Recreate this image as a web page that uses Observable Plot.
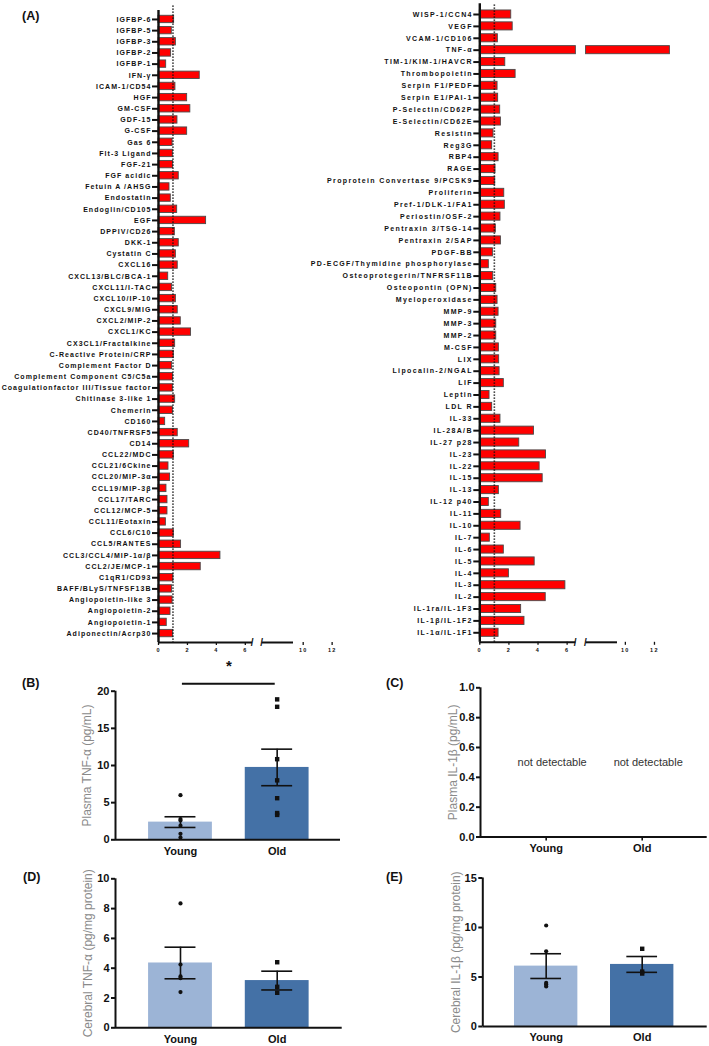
<!DOCTYPE html>
<html><head><meta charset="utf-8">
<script src="https://cdn.jsdelivr.net/npm/d3@7"></script>
<script src="https://cdn.jsdelivr.net/npm/@observablehq/plot@0.6"></script>
<style>
body{margin:0;background:#fff;}
#fig{position:relative;width:709px;height:1046px;font-family:"Liberation Sans",Arial,sans-serif;overflow:hidden;background:#fff}
.panel{position:absolute}
.letter{position:absolute;font-weight:bold;font-size:12.5px;line-height:12px;color:#111}
</style></head><body><div id="fig"></div>
<script>
// ---------- DATA ----------
const leftCats = ["IGFBP-6","IGFBP-5","IGFBP-3","IGFBP-2","IGFBP-1","IFN-γ","ICAM-1/CD54","HGF","GM-CSF","GDF-15","G-CSF","Gas 6","Flt-3 Ligand","FGF-21","FGF acidic","Fetuin A /AHSG","Endostatin","Endoglin/CD105","EGF","DPPIV/CD26","DKK-1","Cystatin C","CXCL16","CXCL13/BLC/BCA-1","CXCL11/I-TAC","CXCL10/IP-10","CXCL9/MIG","CXCL2/MIP-2","CXCL1/KC","CX3CL1/Fractalkine","C-Reactive Protein/CRP","Complement Factor D","Complement Component C5/C5a","Coagulationfactor III/Tissue factor","Chitinase 3-like 1","Chemerin","CD160","CD40/TNFRSF5","CD14","CCL22/MDC","CCL21/6Ckine","CCL20/MIP-3α","CCL19/MIP-3β","CCL17/TARC","CCL12/MCP-5","CCL11/Eotaxin","CCL6/C10","CCL5/RANTES","CCL3/CCL4/MIP-1α/β","CCL2/JE/MCP-1","C1qR1/CD93","BAFF/BLyS/TNFSF13B","Angiopoietin-like 3","Angiopoietin-2","Angiopoietin-1","Adiponectin/Acrp30"];
const leftFold = [1.08,0.92,1.2,0.87,0.53,2.85,1.17,1.98,2.2,1.31,1.98,0.97,0.99,1.01,1.4,0.76,0.85,1.29,3.29,1.13,1.4,1.2,1.33,0.67,0.94,1.2,1.33,1.54,2.25,1.15,1.06,0.94,1.01,0.99,1.15,0.99,0.46,1.33,2.12,1.06,0.69,0.8,0.55,0.62,0.62,0.51,1.06,1.56,4.28,2.92,1.03,0.94,0.97,0.83,0.57,1.01];
const rightCats = ["WISP-1/CCN4","VEGF","VCAM-1/CD106","TNF-α","TIM-1/KIM-1/HAVCR","Thrombopoietin","Serpin F1/PEDF","Serpin E1/PAI-1","P-Selectin/CD62P","E-Selectin/CD62E","Resistin","Reg3G","RBP4","RAGE","Proprotein Convertase 9/PCSK9","Proliferin","Pref-1/DLK-1/FA1","Periostin/OSF-2","Pentraxin 3/TSG-14","Pentraxin 2/SAP","PDGF-BB","PD-ECGF/Thymidine phosphorylase","Osteoprotegerin/TNFRSF11B","Osteopontin (OPN)","Myeloperoxidase","MMP-9","MMP-3","MMP-2","M-CSF","LIX","Lipocalin-2/NGAL","LIF","Leptin","LDL R","IL-33","IL-28A/B","IL-27 p28","IL-23","IL-22","IL-15","IL-13","IL-12 p40","IL-11","IL-10","IL-7","IL-6","IL-5","IL-4","IL-3","IL-2","IL-1ra/IL-1F3","IL-1β/IL-1F2","IL-1α/IL-1F1"];
const rightFold = [2.16,2.26,1.24,16,1.75,2.46,1.22,1.26,1.4,1.45,0.94,0.85,1.29,1.08,1.06,1.68,1.72,1.42,1.1,1.45,0.9,0.62,0.92,1.13,1.22,1.29,1.13,1.13,1.31,1.33,1.36,1.65,0.67,0.85,1.42,3.72,2.71,4.55,4.11,4.32,1.31,0.62,1.47,2.8,0.69,1.65,3.77,2.0,5.88,4.53,2.84,3.07,1.29];
const foldTicks = [0,2,4,6,10,12];
const foldReference = 1;
const foldMax = 12;

const groups = ["Young","Old"];
const plasmaTnfMean = [2.38, 9.74];
const plasmaTnfSem = [0.72, 2.46];
const plasmaTnfYoung = [6.0, 2.8, 2.6, 1.9, 0.8, 0.3];
const plasmaTnfOld = [18.9, 17.9, 10.85, 8.0, 5.6, 3.6, 3.35];
const plasmaTnfTicks = [0,5,10,15,20];
const plasmaTnfSigLevel = 21;
const plasmaTnfStarLevel = 23.9;

const plasmaIl1bTicks = [0,0.2,0.4,0.6,0.8,1.0];
const plasmaIl1bNote = ["not detectable","not detectable"];

const cerebralTnfMean = [4.35, 3.17];
const cerebralTnfSem = [1.06, 0.63];
const cerebralTnfYoung = [8.35, 4.25, 3.45, 3.33, 2.4];
const cerebralTnfOld = [4.4, 2.75, 2.35];
const cerebralTnfTicks = [0,2,4,6,8,10];

const cerebralIl1bMean = [6.1, 6.27];
const cerebralIl1bSem = [1.25, 0.8];
const cerebralIl1bYoung = [10.2, 7.6, 4.4, 4.25, 4.05];
const cerebralIl1bOld = [7.85, 5.55, 5.35];
const cerebralIl1bTicks = [0,5,10,15];

// ---------- STYLE ----------
const FONT = "'Liberation Sans', Arial, sans-serif";
const barColors = ["#9cb4d6", "#4471a6"];

const fig = document.getElementById("fig");
function place(node, left, top) {
  node.classList.add("panel");
  node.style.left = left + "px";
  node.style.top = top + "px";
  fig.appendChild(node);
}
function letter(t, left, top) {
  const d = document.createElement("div");
  d.className = "letter"; d.textContent = t;
  d.style.left = left + "px"; d.style.top = top + "px";
  fig.appendChild(d);
}

// broken-axis scale transform: [0,b0] kept, gap after b0, resumes at b1 with a slope
function brokenAxis(b0, b1, gap, slope) {
  return v => v <= b0 ? v : v >= b1 ? b0 + gap + (v - b1) * slope : b0 + gap * (v - b0) / (b1 - b0);
}

function foldPanel({cats, values, brk, b0, b1, xRange, yDomain, yRange, width, height, axisTop, dotTop, spacing}) {
  const n = cats.length;
  const segs = [];
  values.forEach((v, i) => {
    segs.push({i, x1: 0, x2: Math.min(v, b0)});
    if (v > b1) segs.push({i, x1: b1, x2: v});
  });
  const axisLevel = yDomain[1];
  const axisSegs = [{x1: 0, x2: b0}, {x1: b1, x2: foldMax}];
  return Plot.plot({
    width, height,
    marginTop: yRange[0], marginBottom: height - yRange[1],
    marginLeft: xRange[0], marginRight: width - xRange[1],
    style: {background: "transparent", fontFamily: FONT, overflow: "visible", letterSpacing: spacing, color: "#111"},
    x: {transform: brk, domain: [0, brk(foldMax)], range: xRange},
    y: {domain: yDomain, range: yRange},
    marks: [
      Plot.rect(segs, {x1: "x1", x2: "x2", y1: d => d.i - 0.5, y2: d => d.i + 0.5, insetTop: 1.9, insetBottom: 1.9, fill: "#ff0000", stroke: "#4a4a4a", strokeWidth: 0.9}),
      Plot.ruleX([foldReference], {y1: dotTop, y2: axisLevel, stroke: "#111", strokeWidth: 1.6, strokeDasharray: "1.3,1.7"}),
      Plot.ruleX([0], {y1: axisTop, y2: axisLevel, stroke: "#111", strokeWidth: 2.4}),
      Plot.ruleY(axisSegs, {x1: "x1", x2: "x2", y: () => axisLevel, stroke: "#111", strokeWidth: 2}),
      Plot.text([b0, b1], {x: d => d, y: () => axisLevel, text: () => "/", fontSize: 10, fontWeight: "bold", fill: "#111"}),
      Plot.axisY({ticks: d3.range(n), tickFormat: i => cats[i], tickSize: 6, tickPadding: 1, strokeWidth: 2, fontSize: 7, fontWeight: "bold", label: null}),
      Plot.axisX({ticks: foldTicks, tickSize: 3, tickPadding: 3, strokeWidth: 1.3, fontSize: 5.5, fontWeight: "bold", label: null})
    ]
  });
}

function groupPanel({mean, sem, young, old, yDomain, yRange, yTicks, yFormat, xDomain, xRange, width, height, label, labelDx, tickSize, tickPadding, extra = []}) {
  const bars = mean.map((m, i) => ({i, mean: m, sem: sem[i]}));
  const caps = bars.flatMap(b => [{i: b.i, y: b.mean - b.sem}, {i: b.i, y: b.mean + b.sem}]);
  const yPts = young.map(v => ({i: 0, v}));
  const oPts = old.map(v => ({i: 1, v}));
  return Plot.plot({
    width, height,
    marginLeft: xRange[0], marginRight: width - xRange[1],
    marginTop: yRange[1], marginBottom: height - yRange[0],
    style: {background: "transparent", fontFamily: FONT, overflow: "visible", color: "#111"},
    x: {domain: xDomain, range: xRange},
    y: {domain: yDomain, range: yRange},
    marks: [
      Plot.rectY(bars.filter(b => b.i === 0), {x1: d => d.i - 0.33, x2: d => d.i + 0.33, y1: 0, y2: "mean", fill: barColors[0]}),
      Plot.rectY(bars.filter(b => b.i === 1), {x1: d => d.i - 0.33, x2: d => d.i + 0.33, y1: 0, y2: "mean", fill: barColors[1]}),
      Plot.ruleX(bars, {x: "i", y1: d => d.mean - d.sem, y2: d => d.mean + d.sem, stroke: "#111", strokeWidth: 1.6}),
      Plot.ruleY(caps, {y: "y", x1: d => d.i - 0.16, x2: d => d.i + 0.16, stroke: "#111", strokeWidth: 1.6}),
      Plot.dot(yPts, {x: "i", y: "v", r: 2.1, fill: "#111", symbol: "circle"}),
      Plot.dot(oPts, {x: "i", y: "v", r: 2.5, fill: "#111", symbol: "square"}),
      Plot.ruleY([0], {stroke: "#111", strokeWidth: 2}),
      Plot.ruleX([xDomain[0]], {y1: yDomain[0], y2: yDomain[1], stroke: "#111", strokeWidth: 2}),
      Plot.axisY({ticks: yTicks, tickFormat: yFormat, tickSize: 4, tickPadding: 2, strokeWidth: 2, fontSize: 11, fontWeight: "bold", label: null}),
      Plot.axisX({ticks: [0, 1], tickFormat: i => groups[i], tickSize, tickPadding, strokeWidth: 1.6, fontSize: 11, fontWeight: "bold", label: null}),
      Plot.text([label], {text: d => d, frameAnchor: "left", textAnchor: "middle", rotate: -90, dx: labelDx, fill: "#8a8a8a", fontSize: 12}),
      ...extra
    ]
  });
}

// ---------- PANEL A ----------
place(foldPanel({
  cats: leftCats, values: leftFold,
  brk: brokenAxis(6.5, 9.6, 0.67, 0.9), b0: 6.5, b1: 9.6, xRange: [158, 293],
  yDomain: [-1.25, leftCats.length - 1 + 0.8], yRange: [5, 642],
  width: 300, height: 665, axisTop: -0.8, dotTop: -1.2, spacing: "1.05px"
}), 0, 0);

place(foldPanel({
  cats: rightCats, values: rightFold,
  brk: brokenAxis(6.6, 9.6, 0.7, 0.9), b0: 6.6, b1: 9.6, xRange: [179.3, 317],
  yDomain: [-0.9, rightCats.length - 1 + 0.8], yRange: [3.3, 641.8],
  width: 409, height: 665, axisTop: -0.9, dotTop: -0.8, spacing: "1.35px"
}), 300, 0);

// ---------- PANEL B ----------
place(groupPanel({
  mean: plasmaTnfMean, sem: plasmaTnfSem, young: plasmaTnfYoung, old: plasmaTnfOld,
  yDomain: [0, 20], yRange: [199.3, 50.7], yTicks: plasmaTnfTicks, yFormat: d3.format("d"),
  xDomain: [-0.672, 1.655], xRange: [115, 340], width: 350, height: 225,
  label: "Plasma TNF-α (pg/mL)", labelDx: -28, tickSize: 0, tickPadding: 7,
  extra: [
    Plot.ruleY([plasmaTnfSigLevel], {x1: 0.02, x2: 0.98, stroke: "#111", strokeWidth: 1.8}),
    Plot.text(["*"], {text: d => d, x: 0.5, y: plasmaTnfStarLevel, dy: 4, fontSize: 15, fontWeight: "bold", fill: "#111"})
  ]
}), 0, 640);

// ---------- PANEL C ----------
place(groupPanel({
  mean: [], sem: [], young: [], old: [],
  yDomain: [0, 1], yRange: [196.5, 47.3], yTicks: plasmaIl1bTicks, yFormat: d3.format(".1f"),
  xDomain: [-0.684, 1.677], xRange: [120, 346.7], width: 349, height: 225,
  label: "Plasma IL-1β (pg/mL)", labelDx: -27, tickSize: 4, tickPadding: 3,
  extra: [
    Plot.text(plasmaIl1bNote, {text: d => d, x: (d, i) => i, y: () => 0.5, dx: 6, fontSize: 11, fill: "#333"})
  ]
}), 360, 640);

// ---------- PANEL D ----------
place(groupPanel({
  mean: cerebralTnfMean, sem: cerebralTnfSem, young: cerebralTnfYoung, old: cerebralTnfOld,
  yDomain: [0, 10], yRange: [167.3, 18.3], yTicks: cerebralTnfTicks, yFormat: d3.format("d"),
  xDomain: [-0.672, 1.672], xRange: [115, 341.7], width: 350, height: 186,
  label: "Cerebral TNF-α (pg/mg protein)", labelDx: -27, tickSize: 0, tickPadding: 7
}), 0, 860);

// ---------- PANEL E ----------
place(groupPanel({
  mean: cerebralIl1bMean, sem: cerebralIl1bSem, young: cerebralIl1bYoung, old: cerebralIl1bOld,
  yDomain: [0, 15], yRange: [166, 17.5], yTicks: cerebralIl1bTicks, yFormat: d3.format("d"),
  xDomain: [-0.66, 1.677], xRange: [122.3, 346.7], width: 349, height: 186,
  label: "Cerebral IL-1β (pg/mg protein)", labelDx: -27, tickSize: 0, tickPadding: 7
}), 360, 860);

letter("(A)", 22, 10);
letter("(B)", 22, 677);
letter("(C)", 386, 677);
letter("(D)", 23, 871);
letter("(E)", 386, 871);
</script></body></html>
